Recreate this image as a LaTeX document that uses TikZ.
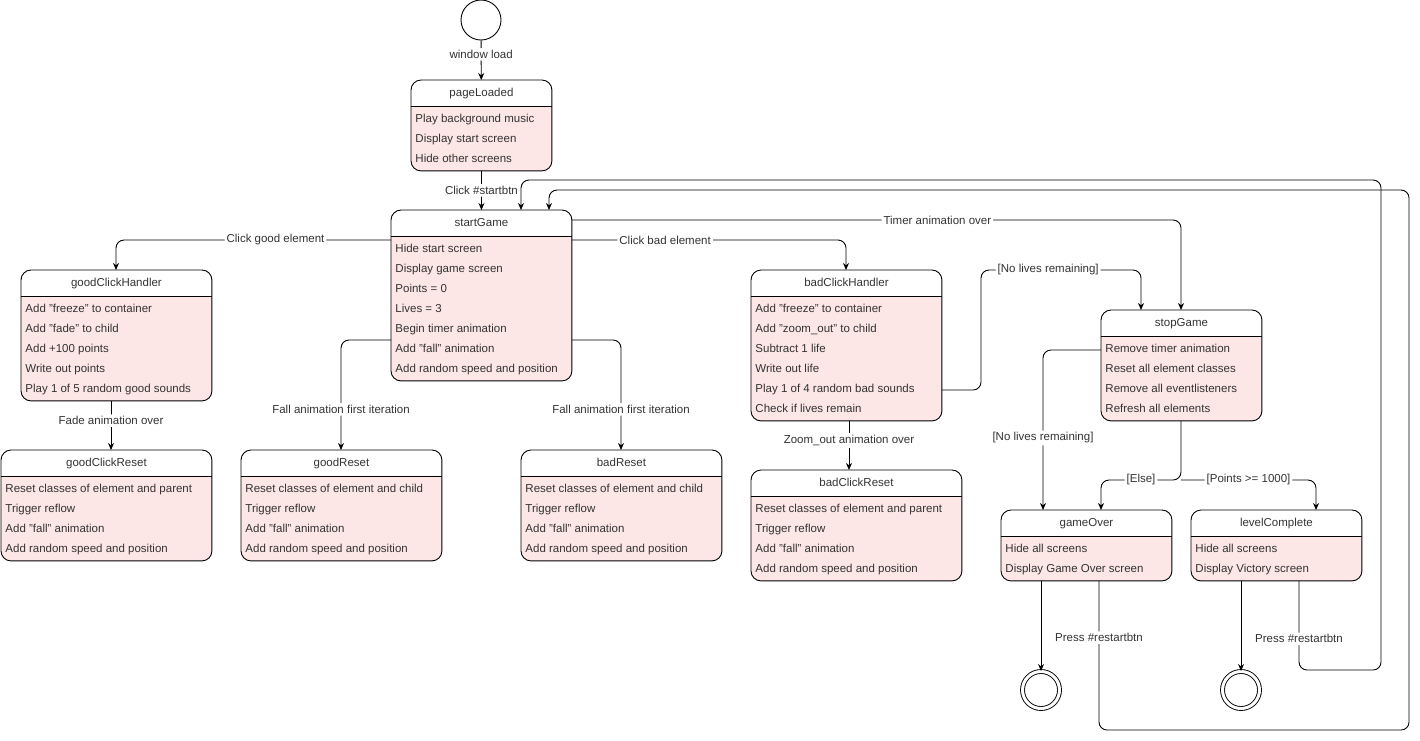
\documentclass[tikz,border=0pt]{standalone}
\usepackage{fontspec}
\setmainfont{Liberation Sans}
\usetikzlibrary{calc,arrows.meta,positioning}
\definecolor{rowpink}{HTML}{FDE6E6}
\definecolor{txt}{HTML}{333333}

% name, left, top, width, height, title, rows
\newcommand\statebox[7]{%
  \node[box, minimum width=#4pt, minimum height=#5pt, anchor=north west] (#1) at (#2,#3) {};
  \begin{scope}
    \clip[rounded corners=10pt] (#1.south west) rectangle (#1.north east);
    \fill[rowpink] (#1.south west) rectangle ($(#1.north east)+(0,26)$);
  \end{scope}
  \draw[rounded corners=10pt] (#1.south west) rectangle (#1.north east);
  \draw ($(#1.north west)+(0,26)$) -- ($(#1.north east)+(0,26)$);
  \node[row, anchor=center] (#1-t) at ($(#1.north)+(0,13)$) {#6};
  \foreach \t [count=\i] in {#7}
    \node[row, anchor=west] (#1-\i) at ($(#1.north west)+(3,{19+20*\i})$) {\t};
}

\begin{document}
\begin{tikzpicture}[x=1pt,y=-1pt,
    box/.style={draw=none,inner sep=0pt},
    row/.style={font=\fontsize{11.5}{13}\selectfont,text=txt,inner sep=1pt,text height=8.5pt,text depth=2.5pt},
    lbl/.style={font=\fontsize{11.5}{13}\selectfont,text=txt,fill=white,inner sep=2pt},
    arr/.style={-{Stealth[length=7pt,width=6pt]},rounded corners=8pt},
    line width=0.9pt]
  \useasboundingbox (0,0) rectangle (1420,740);

  \node[circle,draw,minimum size=40pt,inner sep=0pt] (init) at (481,20) {};
  \node[circle,draw,double,double distance=3pt,minimum size=37pt,inner sep=0pt] (end1) at (1041,690) {};
  \node[circle,draw,double,double distance=3pt,minimum size=37pt,inner sep=0pt] (end2) at (1241,690) {};

  \statebox{pageLoaded}{411}{80}{140}{90}{pageLoaded}{Play background music,Display start screen,Hide other screens}
  \statebox{startGame}{391}{210}{180}{170}{startGame}{Hide start screen,Display game screen,Points = 0,Lives = 3,Begin timer animation,Add "fall" animation,Add random speed and position}
  \statebox{goodClickHandler}{21}{270}{190}{130}{goodClickHandler}{Add "freeze" to container,Add "fade" to child,Add +100 points,Write out points,Play 1 of 5 random good sounds}
  \statebox{goodClickReset}{1}{450}{210}{110}{goodClickReset}{Reset classes of element and parent,Trigger reflow,Add "fall" animation,Add random speed and position}
  \statebox{goodReset}{241}{450}{200}{110}{goodReset}{Reset classes of element and child,Trigger reflow,Add "fall" animation,Add random speed and position}
  \statebox{badReset}{521}{450}{200}{110}{badReset}{Reset classes of element and child,Trigger reflow,Add "fall" animation,Add random speed and position}
  \statebox{badClickHandler}{751}{270}{190}{150}{badClickHandler}{Add "freeze" to container,Add "zoom\_out" to child,Subtract 1 life,Write out life,Play 1 of 4 random bad sounds,Check if lives remain}
  \statebox{badClickReset}{751}{470}{210}{110}{badClickReset}{Reset classes of element and parent,Trigger reflow,Add "fall" animation,Add random speed and position}
  \statebox{stopGame}{1101}{310}{160}{110}{stopGame}{Remove timer animation,Reset all element classes,Remove all eventlisteners,Refresh all elements}
  \statebox{gameOver}{1001}{510}{170}{70}{gameOver}{Hide all screens,Display Game Over screen}
  \statebox{levelComplete}{1191}{510}{170}{70}{levelComplete}{Hide all screens,Display Victory screen}

  \draw[arr] (init) -- node[lbl,pos=0.35]{window load} (pageLoaded);
  \draw[arr] (pageLoaded) -- node[lbl]{Click \#startbtn} (startGame);
  \draw[arr] (startGame.west |- 0,240) -- node[lbl,pos=0.42]{Click good element} (116,240) -- (116,270);
  \draw[arr] (startGame.east |- 0,240) -- node[lbl,pos=0.34]{Click bad element} (846,240) -- (846,270);
  \draw[arr] (startGame.east |- 0,220) -- node[lbl,pos=0.6]{Timer animation over} (1181,220) -- (stopGame.north -| 1181,0);
  \draw[arr] (startGame.west |- 0,340) -- (341,340) -- node[lbl,pos=0.63]{Fall animation first iteration} (goodReset.north -| 341,0);
  \draw[arr] (startGame.east |- 0,340) -- (621,340) -- node[lbl,pos=0.63]{Fall animation first iteration} (badReset.north -| 621,0);
  \draw[arr] (goodClickHandler.south -| 111,0) -- node[lbl,pos=0.4]{Fade animation over} (goodClickReset.north -| 111,0);
  \draw[arr] (badClickHandler.south -| 849,0) -- node[lbl,pos=0.4]{Zoom\_out animation over} (badClickReset.north -| 849,0);
  \draw[arr] (badClickHandler.east |- 0,390) -- (981,390) -- (981,270) -- node[lbl,pos=0.42]{[No lives remaining]} (1141,270) -- (stopGame.north -| 1141,0);
  \draw[arr] (stopGame.west |- 0,350) -- (1043,350) -- node[lbl,pos=0.55]{[No lives remaining]} (gameOver.north -| 1043,0);
  \draw[arr] (stopGame.south -| 1181,0) -- (1181,480) -- node[lbl]{[Else]} (1101,480) -- (gameOver.north -| 1101,0);
  \draw[arr] (1181,480) -- node[lbl]{[Points >= 1000]} (1316,480) -- (levelComplete.north -| 1316,0);
  \draw[arr] (gameOver.south -| 1041,0) -- (end1);
  \draw[arr] (levelComplete.south -| 1241,0) -- (end2);
  \draw[arr] (gameOver.south -| 1099,0) -- node[lbl,pos=0.38]{Press \#restartbtn} (1099,730) -- (1409,730) -- (1409,190) -- (549,190) -- (startGame.north -| 549,0);
  \draw[arr] (levelComplete.south -| 1299,0) -- node[lbl,pos=0.65]{Press \#restartbtn} (1299,670) -- (1381,670) -- (1381,180) -- (521,180) -- (startGame.north -| 521,0);
\end{tikzpicture}
\end{document}
